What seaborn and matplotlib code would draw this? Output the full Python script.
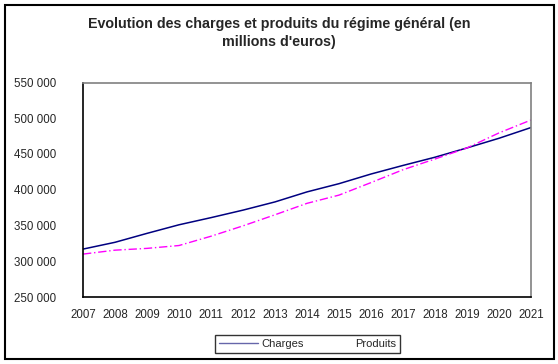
import matplotlib
matplotlib.use("Agg")
import matplotlib.pyplot as plt
import seaborn as sns
import pandas as pd
from matplotlib.lines import Line2D
from matplotlib.patches import Rectangle

years = [2007, 2008, 2009, 2010, 2011, 2012, 2013, 2014, 2015, 2016, 2017, 2018, 2019, 2020, 2021]
charges = [317000, 326500, 339000, 351000, 361000, 371500, 383000, 397000, 408500, 422000, 434000, 445500, 458500, 472000, 487000]
produits = [310000, 315500, 318000, 322000, 335000, 349500, 365000, 381000, 392500, 410000, 428000, 443000, 458500, 479500, 497500]
yticks = [250000, 300000, 350000, 400000, 450000, 500000, 550000]

sns.set_style("white")
plt.rcParams['font.family'] = ['Liberation Sans', 'DejaVu Sans']

df = pd.DataFrame({"Année": years, "Charges": charges, "Produits": produits})

fig = plt.figure(figsize=(5.58, 3.64), dpi=100)
ax = fig.add_axes([83/558, 1-297/364, (531-83)/558, (297-82.5)/364])

sns.lineplot(data=df, x="Année", y="Charges", ax=ax, color="#000080", linewidth=1.1)
sns.lineplot(data=df, x="Année", y="Produits", ax=ax, color="#FF00FF", linewidth=1.0,
             linestyle=(0, (6, 2, 1, 2)))

ax.set_xlim(2007, 2021)
ax.set_ylim(250000, 550000)
ax.set_xticks(years)
ax.set_xticklabels([str(y) for y in years], fontsize=8.3)
ax.set_yticks(yticks)
ax.set_yticklabels([f"{v:,}".replace(",", " ") for v in yticks], fontsize=8.3)
ax.set_xlabel("")
ax.set_ylabel("")
ax.tick_params(axis="both", direction="inout", length=6, width=1, color="black")
ax.tick_params(axis="y", pad=16)
ax.tick_params(axis="x", pad=6)
for s in ["left", "bottom"]:
    ax.spines[s].set_color("black")
    ax.spines[s].set_linewidth(1.2)
for s in ["top", "right"]:
    ax.spines[s].set_color("#808080")
    ax.spines[s].set_linewidth(1.2)
ax.grid(False)

fig.text(0.5, 1-17/364, "Evolution des charges et produits du régime général (en\nmillions d'euros)",
         ha="center", va="top", fontsize=10.3, fontweight="bold", linespacing=1.4)

handles = [Line2D([], [], color="#6666AA", linewidth=1),
           Line2D([], [], color="white", linewidth=1)]
leg = fig.legend(handles, ["Charges", "Produits"], loc="center", ncol=2,
                 bbox_to_anchor=(307.5/558, 1-344/364), frameon=True, fancybox=False,
                 fontsize=8, handlelength=3.5, columnspacing=0.8, borderpad=0.4,
                 handletextpad=0.3)
leg.get_frame().set_edgecolor("black")
leg.get_frame().set_linewidth(1)

fig.patches.append(Rectangle((5/558, 1-359/364), 549/558, 354/364, transform=fig.transFigure,
                             fill=False, edgecolor="black", linewidth=1.5))

fig.savefig("out.png", dpi=100)
